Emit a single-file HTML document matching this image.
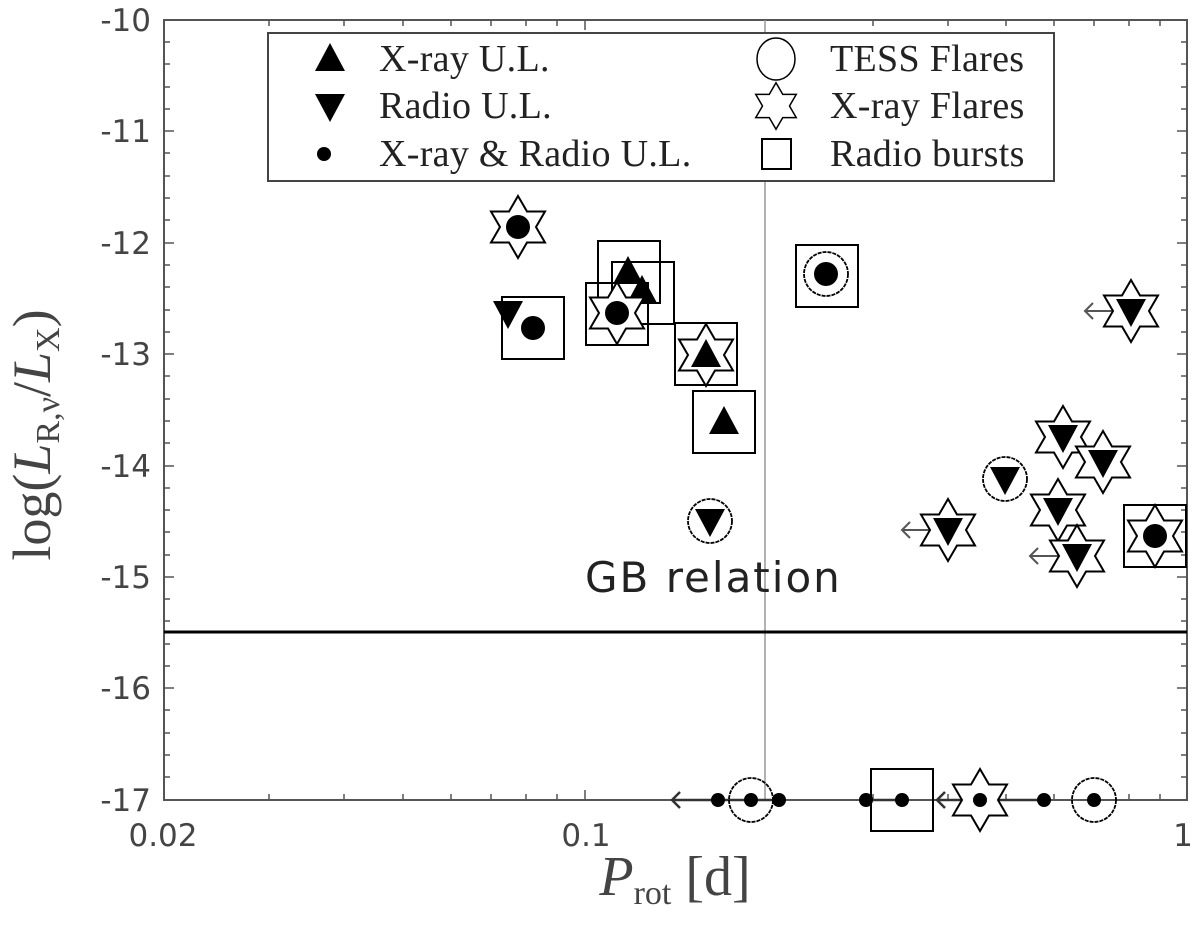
<!DOCTYPE html>
<html><head><meta charset="utf-8"><style>
html,body{margin:0;padding:0;background:#fff;width:1200px;height:933px;overflow:hidden}
svg{display:block}
.t{font-family:"DejaVu Sans","Liberation Sans",sans-serif;font-size:31px;fill:#444}
.lg{font-family:"Liberation Serif",serif;font-size:38px;fill:#222;letter-spacing:0.3px}
</style></head><body>
<svg width="1200" height="933" viewBox="0 0 1200 933" xmlns="http://www.w3.org/2000/svg">
<defs>
<path id="star" d="M0,-31 L9,-15.5 L27,-15.5 L18,0 L27,15.5 L9,15.5 L0,31 L-9,15.5 L-27,15.5 L-18,0 L-27,-15.5 L-9,-15.5 Z" fill="#fff" stroke="#000" stroke-width="2"/>
<rect id="sq" x="-31" y="-31" width="62" height="62" fill="none" stroke="#000" stroke-width="2"/>
<circle id="ci" r="22" fill="none" stroke="#000" stroke-width="1.8" stroke-dasharray="4,1"/>
<polygon id="up" points="0,-16 15,12 -15,12" fill="#000"/>
<polygon id="dn" points="0,16 15,-12 -15,-12" fill="#000"/>
<circle id="dot" r="12" fill="#000"/>
<circle id="sd" r="7" fill="#000"/>
</defs>
<rect x="164" y="20" width="1023" height="780" fill="none" stroke="#555" stroke-width="2"/>
<line x1="765" y1="20" x2="765" y2="800" stroke="#999" stroke-width="1.5"/>
<line x1="164" y1="632" x2="1187" y2="632" stroke="#000" stroke-width="3"/>
<g stroke="#555" stroke-width="1.5">
<path d="M164,131h10M164,243h10M164,354h10M164,466h10M164,577h10M164,688h10M1187,131h-10M1187,243h-10M1187,354h-10M1187,466h-10M1187,577h-10M1187,688h-10"/>
<path d="M164,42h6M164,64h6M164,87h6M164,109h6M164,153h6M164,176h6M164,198h6M164,220h6M164,265h6M164,287h6M164,310h6M164,332h6M164,376h6M164,399h6M164,421h6M164,443h6M164,488h6M164,510h6M164,532h6M164,555h6M164,599h6M164,621h6M164,644h6M164,666h6M164,710h6M164,733h6M164,755h6M164,777h6"/>
<path d="M1187,42h-6M1187,64h-6M1187,87h-6M1187,109h-6M1187,153h-6M1187,176h-6M1187,198h-6M1187,220h-6M1187,265h-6M1187,287h-6M1187,310h-6M1187,332h-6M1187,376h-6M1187,399h-6M1187,421h-6M1187,443h-6M1187,488h-6M1187,510h-6M1187,532h-6M1187,555h-6M1187,599h-6M1187,621h-6M1187,644h-6M1187,666h-6M1187,710h-6M1187,733h-6M1187,755h-6M1187,777h-6"/>
<path d="M585,800v-10M585,20v10M269,800v-6M344,800v-6M403,800v-6M451,800v-6M491,800v-6M526,800v-6M557,800v-6M873,800v-6M948,800v-6M1006,800v-6M1054,800v-6M1094,800v-6M1129,800v-6M1160,800v-6"/>
<path d="M269,20v6M344,20v6M403,20v6M451,20v6M491,20v6M526,20v6M557,20v6M873,20v6M948,20v6M1006,20v6M1054,20v6M1094,20v6M1129,20v6M1160,20v6"/>
</g>
<g class="t" text-anchor="end">
<text x="151" y="31">-10</text><text x="151" y="142">-11</text><text x="151" y="254">-12</text><text x="151" y="365">-13</text><text x="151" y="477">-14</text><text x="151" y="588">-15</text><text x="151" y="699">-16</text><text x="151" y="811">-17</text>
</g>
<g class="t" text-anchor="middle">
<text x="163" y="846">0.02</text><text x="586" y="846">0.1</text><text x="1183" y="846">1</text>
</g>
<text x="675" y="895" text-anchor="middle" font-family="Liberation Serif,serif" font-size="56" fill="#444"><tspan font-style="italic">P</tspan><tspan font-size="34" dy="9">rot</tspan><tspan dy="-9"> [d]</tspan></text>
<text transform="translate(50,435) rotate(-90)" text-anchor="middle" font-family="Liberation Serif,serif" font-size="54" fill="#444">log(<tspan font-style="italic">L</tspan><tspan font-size="34" dy="9">R,ν</tspan><tspan dy="-9">/</tspan><tspan font-style="italic">L</tspan><tspan font-size="34" dy="9">X</tspan><tspan dy="-9">)</tspan></text>
<text x="585" y="592" font-family="DejaVu Sans,sans-serif" font-size="42" letter-spacing="2" fill="#222">GB relation</text>
<rect x="268" y="33" width="786" height="148" fill="#fff" stroke="#444" stroke-width="2"/>
<use href="#up" x="330" y="59"/><use href="#dn" x="330" y="106"/><circle cx="324" cy="154" r="7" fill="#000"/>
<text class="lg" x="379" y="71">X-ray U.L.</text><text class="lg" x="379" y="118">Radio U.L.</text><text class="lg" x="379" y="166">X-ray &amp; Radio U.L.</text>
<ellipse cx="776" cy="59" rx="19" ry="21" fill="none" stroke="#000" stroke-width="1.5"/>
<g transform="translate(776,106) scale(0.75)"><use href="#star"/></g>
<rect x="762" y="139" width="29" height="30" fill="none" stroke="#000" stroke-width="2"/>
<text class="lg" x="830" y="71">TESS Flares</text><text class="lg" x="830" y="118">X-ray Flares</text><text class="lg" x="830" y="166">Radio bursts</text>
<use href="#star" x="518" y="227"/><use href="#dot" x="518" y="227"/>
<use href="#sq" x="533" y="328"/><use href="#dn" x="508" y="313"/><use href="#dot" x="533" y="328"/>
<use href="#sq" x="629" y="272"/><use href="#up" x="628" y="272"/>
<use href="#sq" x="643" y="293"/><use href="#up" x="642" y="291"/>
<use href="#star" x="617" y="313"/><use href="#sq" x="617" y="314"/><use href="#dot" x="617" y="313"/>
<use href="#star" x="706" y="355"/><use href="#sq" x="706" y="354"/><use href="#up" x="706" y="355"/>
<use href="#sq" x="724" y="422"/><use href="#up" x="724" y="422"/>
<use href="#sq" x="827" y="276"/><use href="#ci" x="826" y="274"/><use href="#dot" x="826" y="274"/>
<use href="#ci" x="710" y="521"/><use href="#dn" x="710" y="521"/>
<g stroke="#555" stroke-width="2" fill="none">
<path d="M1085,311h30M1093,303l-8,8l8,8"/>
<path d="M902,530h30M910,522l-8,8l8,8"/>
<path d="M1030,556h30M1038,548l-8,8l8,8"/>
</g>
<use href="#star" x="1131" y="311"/><use href="#dn" x="1131" y="311"/>
<use href="#star" x="1063" y="437"/><use href="#dn" x="1063" y="437"/>
<use href="#star" x="1103" y="462"/><use href="#dn" x="1103" y="462"/>
<use href="#ci" x="1005" y="479"/><use href="#dn" x="1005" y="479"/>
<use href="#star" x="1058" y="510"/><use href="#dn" x="1058" y="510"/>
<use href="#star" x="1077" y="556"/><use href="#dn" x="1077" y="556"/>
<use href="#star" x="948" y="530"/><use href="#dn" x="948" y="530"/>
<use href="#star" x="1155" y="536"/><use href="#sq" x="1155" y="536"/><use href="#dot" x="1155" y="536"/>
<g stroke="#333" stroke-width="2.5" fill="none">
<path d="M672,800h108M680,792l-8,8l8,8"/>
<path d="M866,800h36"/>
<path d="M937,800h107M945,792l-8,8l8,8"/>
</g>
<use href="#ci" x="751" y="800"/>
<use href="#sd" x="718" y="800"/><use href="#sd" x="751" y="800"/><use href="#sd" x="779" y="800"/>
<use href="#sd" x="866" y="800"/><use href="#sq" x="902" y="800"/><use href="#sd" x="902" y="800"/>
<use href="#star" x="980" y="800"/><use href="#sd" x="980" y="800"/>
<use href="#sd" x="1044" y="800"/>
<use href="#ci" x="1094" y="800"/><use href="#sd" x="1094" y="800"/>
</svg>
</body></html>
